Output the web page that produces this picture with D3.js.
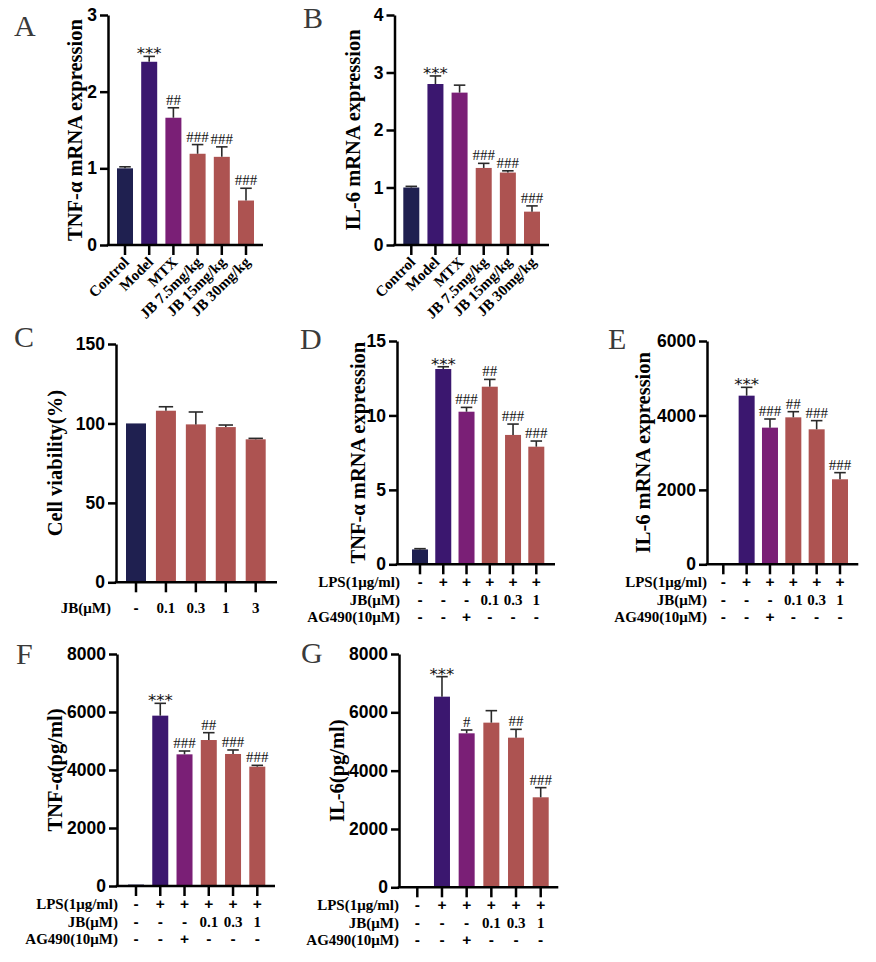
<!DOCTYPE html>
<html>
<head>
<meta charset="utf-8">
<script src="https://cdn.jsdelivr.net/npm/d3@7"></script>
<style>
  html, body { margin: 0; padding: 0; background: #fff; }
  svg { display: block; }
</style>
</head>
<body>
<svg id="chart" width="876" height="962"></svg>
<script>
// ---------------- DATA ----------------
const catsAB = ["Control", "Model", "MTX", "JB 7.5mg/kg", "JB 15mg/kg", "JB 30mg/kg"];
const groupsAB = ["ctrl", "model", "mtx", "jb", "jb", "jb"];

const tnfA = [1.0, 2.39, 1.66, 1.19, 1.15, 0.58];
const tnfAErr = [0.02, 0.07, 0.13, 0.12, 0.13, 0.16];
const sigA = ["", "***", "##", "###", "###", "###"];
const ticksA = [0, 1, 2, 3];

const il6B = [1.0, 2.80, 2.65, 1.34, 1.26, 0.58];
const il6BErr = [0.02, 0.14, 0.13, 0.08, 0.03, 0.10];
const sigB = ["", "***", "", "###", "###", "###"];
const ticksB = [0, 1, 2, 3, 4];

const jbC = ["-", "0.1", "0.3", "1", "3"];
const groupsC = ["ctrl", "jb", "jb", "jb", "jb"];
const viabC = [100, 108.0, 99.4, 97.7, 90.0];
const viabCErr = [0, 2.5, 7.8, 1.3, 0.6];
const ticksC = [0, 50, 100, 150];

const rowLabels = ["LPS(1\u03bcg/ml)", "JB(\u03bcM)", "AG490(10\u03bcM)"];
const lpsRow = ["-", "+", "+", "+", "+", "+"];
const jbRow = ["-", "-", "-", "0.1", "0.3", "1"];
const agRow = ["-", "-", "+", "-", "-", "-"];
const groupsDG = ["ctrl", "model", "mtx", "jb", "jb", "jb"];

const tnfD = [1.0, 13.12, 10.25, 11.93, 8.69, 7.90];
const tnfDErr = [0.05, 0.15, 0.29, 0.49, 0.73, 0.38];
const sigD = ["", "***", "###", "##", "###", "###"];
const ticksD = [0, 5, 10, 15];

const il6E = [0, 4531, 3672, 3949, 3627, 2284];
const il6EErr = [0, 224, 232, 152, 233, 179];
const sigE = ["", "***", "###", "##", "###", "###"];
const ticksE = [0, 2000, 4000, 6000];

const tnfF = [50, 5874, 4540, 5034, 4552, 4115];
const tnfFErr = [0, 425, 115, 253, 138, 46];
const sigF = ["", "***", "###", "##", "###", "###"];
const ticksF = [0, 2000, 4000, 6000, 8000];

const il6G = [0, 6537, 5280, 5646, 5131, 3086];
const il6GErr = [0, 686, 114, 411, 286, 331];
const sigG = ["", "***", "#", "", "##", "###"];
const ticksG = [0, 2000, 4000, 6000, 8000];

// ---------------- STYLE ----------------
const COLORS = { ctrl: "#1f2050", model: "#3b176f", mtx: "#7a1f76", jb: "#ad5351" };
const SANS = "'Liberation Sans', Arial, sans-serif";
const SERIF = "'Liberation Serif', 'Times New Roman', serif";
const STAR = "'DejaVu Sans', sans-serif";
const AX = 2.5;

const svg = d3.select("#chart");
svg.append("rect").attr("width", 876).attr("height", 962).attr("fill", "#fff");

function panel(c) {
  const n = c.values.length;
  const step = (c.xEnd - c.axisX - c.offL - c.offR) / (n - 1);
  const pi = 1 - c.bw / step;
  const x = d3.scaleBand().domain(d3.range(n))
    .range([c.axisX + c.offL - step / 2, c.xEnd - c.offR + step / 2])
    .paddingInner(pi).paddingOuter(pi / 2);
  const y = d3.scaleLinear().domain([0, c.max]).range([c.y0, c.yTop]);
  const g = svg.append("g");
  const cx = i => x(i) + x.bandwidth() / 2;

  // bars
  g.selectAll("rect.bar").data(c.values).join("rect")
    .attr("class", "bar")
    .attr("x", (d, i) => x(i))
    .attr("width", x.bandwidth())
    .attr("y", d => y(d))
    .attr("height", d => c.y0 - y(d))
    .attr("fill", (d, i) => COLORS[c.groups[i]]);

  // error bars
  const capW = x.bandwidth() * 0.72;
  c.values.forEach((v, i) => {
    const e = c.errs[i];
    if (!e || v <= 0) return;
    g.append("line").attr("x1", cx(i)).attr("x2", cx(i))
      .attr("y1", y(v)).attr("y2", y(v + e))
      .attr("stroke", "#2a2a2a").attr("stroke-width", 1.6);
    g.append("line").attr("x1", cx(i) - capW / 2).attr("x2", cx(i) + capW / 2)
      .attr("y1", y(v + e)).attr("y2", y(v + e))
      .attr("stroke", "#2a2a2a").attr("stroke-width", 1.6);
  });

  // significance
  if (c.sigs) {
    c.sigs.forEach((s, i) => {
      if (!s) return;
      const top = y(c.values[i] + (c.errs[i] || 0));
      const isStar = s[0] === "*";
      g.append("text")
        .attr("x", cx(i)).attr("y", isStar ? top + 3 : top - 3)
        .attr("text-anchor", "middle")
        .attr("font-family", isStar ? STAR : SERIF)
        .attr("font-size", isStar ? 16.5 : 15)
        .attr("fill", "#111")
        .text(s);
    });
  }

  // y axis
  const ya = g.append("g").attr("transform", `translate(${c.axisX},0)`)
    .call(d3.axisLeft(y).tickValues(c.ticks).tickSize(8).tickPadding(3).tickSizeOuter(0).tickFormat(d3.format("d")));
  ya.select(".domain").attr("stroke", "#000").attr("stroke-width", AX);
  ya.selectAll(".tick line").attr("stroke", "#000").attr("stroke-width", AX);
  ya.selectAll(".tick text").attr("font-family", SANS).attr("font-weight", "bold")
    .attr("font-size", 17.5).attr("fill", "#000");

  // x axis
  g.append("line").attr("x1", c.axisX - AX / 2).attr("x2", c.xEnd)
    .attr("y1", c.y0).attr("y2", c.y0).attr("stroke", "#000").attr("stroke-width", AX);
  const xa = g.append("g").attr("transform", `translate(0,${c.y0})`)
    .call(d3.axisBottom(x).tickSize(10).tickFormat(""));
  xa.select(".domain").remove();
  xa.selectAll(".tick line").attr("stroke", "#000").attr("stroke-width", AX);

  // y title
  g.append("text")
    .attr("transform", `translate(${c.titleX},${(c.y0 + c.yTop) / 2}) rotate(-90)`)
    .attr("text-anchor", "middle").attr("dy", "0.35em")
    .attr("font-family", SERIF).attr("font-weight", "bold").attr("font-size", 20.5)
    .attr("fill", "#000").text(c.title);

  // panel letter
  g.append("text").attr("x", c.letterX).attr("y", c.letterY)
    .attr("font-family", SERIF).attr("font-size", 30).attr("fill", "#3a3a3a")
    .text(c.letter);

  // rotated category labels
  if (c.rotLabels) {
    c.rotLabels.forEach((t, i) => {
      g.append("text")
        .attr("transform", `translate(${cx(i) + 5},${c.y0 + 18}) rotate(-45)`)
        .attr("text-anchor", "end")
        .attr("font-family", SERIF).attr("font-weight", "bold").attr("font-size", 15)
        .attr("fill", "#000").text(t);
    });
  }

  // table rows
  if (c.rows) {
    c.rows.forEach((row, r) => {
      const yy = c.y0 + c.rowOff[r];
      g.append("text").attr("x", c.axisX + c.labelDx).attr("y", yy)
        .attr("text-anchor", "end")
        .attr("font-family", SERIF).attr("font-weight", "bold").attr("font-size", 15)
        .attr("fill", "#000").text(row.label);
      row.cells.forEach((t, i) => {
        const sym = (t === "+" || t === "-");
        g.append("text").attr("x", cx(i)).attr("y", yy)
          .attr("text-anchor", "middle")
          .attr("font-family", sym ? SANS : SERIF).attr("font-weight", "bold")
          .attr("font-size", sym ? 15.5 : 15)
          .attr("fill", "#000").text(t);
      });
    });
  }
}

const tableRows = [
  { label: rowLabels[0], cells: lpsRow },
  { label: rowLabels[1], cells: jbRow },
  { label: rowLabels[2], cells: agRow }
];
const rowOff = [22.5, 40.5, 58];

panel({ axisX: 108, xEnd: 263, y0: 245, yTop: 15, max: 3, ticks: ticksA, offL: 17, offR: 17, bw: 16,
  values: tnfA, errs: tnfAErr, sigs: sigA, groups: groupsAB, rotLabels: catsAB,
  title: "TNF-\u03b1 mRNA expression", titleX: 75, letter: "A", letterX: 14, letterY: 36 });

panel({ axisX: 394.5, xEnd: 549, y0: 245, yTop: 15, max: 4, ticks: ticksB, offL: 16.8, offR: 17, bw: 16,
  values: il6B, errs: il6BErr, sigs: sigB, groups: groupsAB, rotLabels: catsAB,
  title: "IL-6 mRNA expression", titleX: 353, letter: "B", letterX: 303, letterY: 28 });

panel({ axisX: 116, xEnd: 277, y0: 582.3, yTop: 344, max: 150, ticks: ticksC, offL: 20, offR: 21.3, bw: 20,
  values: viabC, errs: viabCErr, groups: groupsC,
  rows: [{ label: "JB(\u03bcM)", cells: jbC }], rowOff: [31], labelDx: -5,
  title: "Cell viability(%)", titleX: 55, letter: "C", letterX: 14, letterY: 347 });

panel({ axisX: 397, xEnd: 555, y0: 564.3, yTop: 341, max: 15, ticks: ticksD, offL: 23, offR: 18.7, bw: 16,
  values: tnfD, errs: tnfDErr, sigs: sigD, groups: groupsDG,
  rows: tableRows, rowOff: rowOff, labelDx: 3,
  title: "TNF-\u03b1 mRNA expression", titleX: 358, letter: "D", letterX: 300, letterY: 349 });

panel({ axisX: 707, xEnd: 858.3, y0: 564.3, yTop: 341, max: 6000, ticks: ticksE, offL: 16.3, offR: 18.3, bw: 16,
  values: il6E, errs: il6EErr, sigs: sigE, groups: groupsDG,
  rows: tableRows, rowOff: rowOff, labelDx: 0,
  title: "IL-6 mRNA expression", titleX: 643, letter: "E", letterX: 608, letterY: 349 });

panel({ axisX: 117, xEnd: 275, y0: 886, yTop: 654, max: 8000, ticks: ticksF, offL: 19, offR: 17.7, bw: 16,
  values: tnfF, errs: tnfFErr, sigs: sigF, groups: groupsDG,
  rows: tableRows, rowOff: rowOff, labelDx: 1,
  title: "TNF-\u03b1(pg/ml)", titleX: 55, letter: "F", letterX: 16, letterY: 664 });

panel({ axisX: 399, xEnd: 558.3, y0: 887.3, yTop: 654, max: 8000, ticks: ticksG, offL: 18.3, offR: 17.6, bw: 16,
  values: il6G, errs: il6GErr, sigs: sigG, groups: groupsDG,
  rows: tableRows, rowOff: rowOff, labelDx: 0,
  title: "IL-6(pg/ml)", titleX: 337, letter: "G", letterX: 301, letterY: 663 });
</script>
</body>
</html>
